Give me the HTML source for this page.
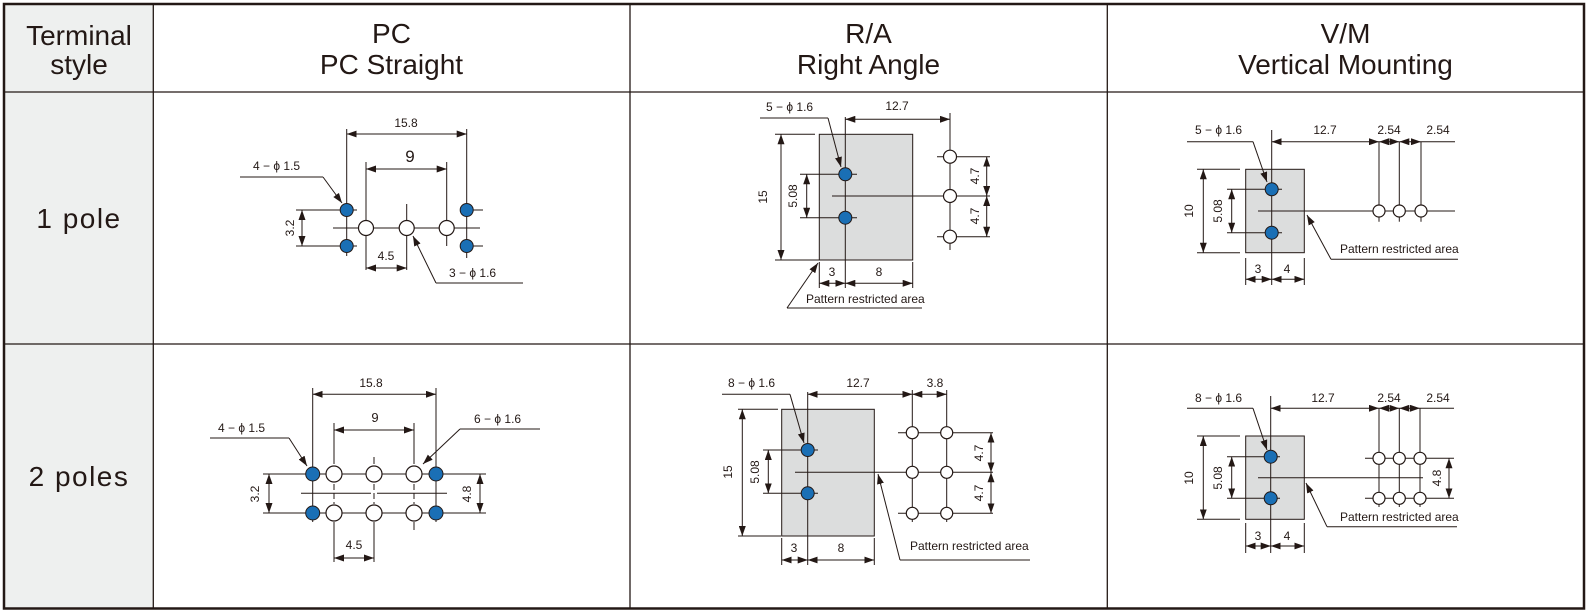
<!DOCTYPE html>
<html><head><meta charset="utf-8"><style>
html,body{margin:0;padding:0;background:#fff}
svg{display:block}
text{font-family:"Liberation Sans",sans-serif;fill:#231815}
.h{font-size:28px;text-anchor:middle}
.t{font-size:12px;text-anchor:middle}
.s{font-size:12px}
.l{stroke:#231815;stroke-width:1;fill:none}
.d{stroke:#231815;stroke-width:1;fill:none;marker-start:url(#a);marker-end:url(#a)}
.e{stroke:#231815;stroke-width:1;fill:none;marker-end:url(#a)}
.g{stroke:#231815;stroke-width:1;fill:none;stroke-dasharray:6,3}
.b{fill:#1a6fb5;stroke:#231815;stroke-width:1}
.o{fill:#fff;stroke:#231815;stroke-width:1.2}
.r{fill:#dcdddd;stroke:#231815;stroke-width:1}
</style></head><body>
<svg width="1588" height="613" viewBox="0 0 1588 613" xmlns="http://www.w3.org/2000/svg">
<defs><marker id="a" markerUnits="userSpaceOnUse" markerWidth="10" markerHeight="7" refX="10" refY="3.5" orient="auto-start-reverse"><path d="M0,0 L10,3.5 L0,7 z" fill="#231815"/></marker></defs>

<rect x="4" y="4" width="149.3" height="604.5" fill="#eef0ef"/>
<rect x="4" y="4" width="1580" height="604.5" fill="none" stroke="#231815" stroke-width="2.5"/>
<line x1="153.3" y1="4" x2="153.3" y2="608.5" stroke="#231815" stroke-width="1.3"/>
<line x1="630" y1="4" x2="630" y2="608.5" stroke="#231815" stroke-width="1.3"/>
<line x1="1107.3" y1="4" x2="1107.3" y2="608.5" stroke="#231815" stroke-width="1.3"/>
<line x1="4" y1="92" x2="1584" y2="92" stroke="#231815" stroke-width="1.3"/>
<line x1="4" y1="344" x2="1584" y2="344" stroke="#231815" stroke-width="1.3"/>

<text class="h" x="79" y="45">Terminal</text>
<text class="h" x="79" y="74">style</text>
<text class="h" x="391.5" y="43">PC</text>
<text class="h" x="391.5" y="74">PC Straight</text>
<text class="h" x="868.5" y="43">R/A</text>
<text class="h" x="868.5" y="74">Right Angle</text>
<text class="h" x="1345.5" y="43">V/M</text>
<text class="h" x="1345.5" y="74">Vertical Mounting</text>
<text class="h" x="79" y="228" style="letter-spacing:1.5px">1 pole</text>
<text class="h" x="79" y="486" style="letter-spacing:1.5px">2 poles</text>

<g>
<line class="l" x1="346.7" y1="129" x2="346.7" y2="256"/>
<line class="l" x1="466.7" y1="129" x2="466.7" y2="258"/>
<line class="d" x1="346.7" y1="134" x2="466.7" y2="134"/>
<line class="l" x1="366" y1="162" x2="366" y2="270"/>
<line class="l" x1="446.7" y1="162" x2="446.7" y2="246"/>
<line class="d" x1="366" y1="169" x2="446.7" y2="169"/>
<line class="l" x1="406.7" y1="204" x2="406.7" y2="270"/>
<line class="l" x1="333" y1="228" x2="480" y2="228"/>
<line class="l" x1="296" y1="210" x2="357" y2="210"/><line class="l" x1="460" y1="210" x2="483" y2="210"/>
<line class="l" x1="296" y1="246" x2="357" y2="246"/><line class="l" x1="460" y1="246" x2="483" y2="246"/>
<line class="d" x1="302" y1="210" x2="302" y2="246"/>
<line class="d" x1="366" y1="268" x2="406.7" y2="268"/>
<polyline class="l" points="240,177 323,177"/>
<line class="e" x1="323" y1="177" x2="342" y2="203"/>
<polyline class="l" points="523,283 436,283"/>
<line class="e" x1="436" y1="283" x2="413" y2="236"/>
<circle class="b" cx="346.7" cy="210" r="6.5"/><circle class="b" cx="346.7" cy="246" r="6.5"/>
<circle class="b" cx="466.7" cy="210" r="6.5"/><circle class="b" cx="466.7" cy="246" r="6.5"/>
<circle class="o" cx="366" cy="228" r="7.5"/><circle class="o" cx="406.7" cy="228" r="7.5"/><circle class="o" cx="446.7" cy="228" r="7.5"/>
<text class="t" x="406" y="127">15.8</text>
<text class="t" x="410" y="162" style="font-size:17px">9</text>
<text class="s" x="253" y="170">4 − ϕ 1.5</text>
<text class="s" x="449" y="277">3 − ϕ 1.6</text>
<text class="t" x="386" y="260">4.5</text>
<text class="t" transform="translate(294,228) rotate(-90)">3.2</text>
</g>

<g>
<rect class="r" x="819.3" y="134.3" width="93.4" height="125.7"/>
<line class="l" x1="845.3" y1="117" x2="845.3" y2="288"/>
<line class="l" x1="800" y1="174.3" x2="857" y2="174.3"/>
<line class="l" x1="800" y1="217.7" x2="857" y2="217.7"/>
<line class="l" x1="832" y1="196" x2="990" y2="196"/>
<line class="l" x1="937" y1="156.7" x2="990" y2="156.7"/>
<line class="l" x1="937" y1="236.7" x2="990" y2="236.7"/>
<line class="l" x1="950" y1="113" x2="950" y2="250"/>
<line class="d" x1="845.3" y1="119.3" x2="950" y2="119.3"/>
<line class="d" x1="986.7" y1="156.7" x2="986.7" y2="196"/>
<line class="d" x1="986.7" y1="196" x2="986.7" y2="236.7"/>
<line class="l" x1="775" y1="134.3" x2="815" y2="134.3"/>
<line class="l" x1="775" y1="260" x2="819" y2="260"/>
<line class="d" x1="781" y1="134.3" x2="781" y2="260"/>
<line class="d" x1="806.7" y1="174.3" x2="806.7" y2="217.7"/>
<line class="l" x1="819.3" y1="262" x2="819.3" y2="288"/>
<line class="l" x1="912.7" y1="262" x2="912.7" y2="288"/>
<line class="d" x1="819.3" y1="283.3" x2="845.3" y2="283.3"/>
<line class="d" x1="845.3" y1="283.3" x2="912.7" y2="283.3"/>
<line class="l" x1="787" y1="308" x2="922" y2="308"/>
<line class="e" x1="787" y1="308" x2="818" y2="263"/>
<line class="l" x1="760" y1="118" x2="828" y2="118"/>
<line class="e" x1="828" y1="118" x2="841" y2="167"/>
<circle class="b" cx="845.3" cy="174.3" r="6.5"/><circle class="b" cx="845.3" cy="217.7" r="6.5"/>
<circle class="o" cx="950" cy="156.7" r="6.5"/><circle class="o" cx="950" cy="196" r="6.5"/><circle class="o" cx="950" cy="236.7" r="6.5"/>
<text class="t" x="897" y="110">12.7</text>
<text class="s" x="766" y="111">5 − ϕ 1.6</text>
<text class="t" x="832" y="276">3</text>
<text class="t" x="879" y="276">8</text>
<text class="s" x="806" y="303">Pattern restricted area</text>
<text class="t" transform="translate(767,197) rotate(-90)">15</text>
<text class="t" transform="translate(797,196) rotate(-90)">5.08</text>
<text class="t" transform="translate(979,176) rotate(-90)">4.7</text>
<text class="t" transform="translate(979,216) rotate(-90)">4.7</text>
</g>

<g>
<rect class="r" x="1245.7" y="169.3" width="58.6" height="83.4"/>
<line class="l" x1="1271.7" y1="130" x2="1271.7" y2="285"/>
<line class="l" x1="1227" y1="189.3" x2="1282" y2="189.3"/>
<line class="l" x1="1227" y1="232.7" x2="1282" y2="232.7"/>
<line class="l" x1="1258" y1="211" x2="1455" y2="211"/>
<line class="l" x1="1379" y1="141.7" x2="1379" y2="221.7"/>
<line class="l" x1="1399.3" y1="141.7" x2="1399.3" y2="221.7"/>
<line class="l" x1="1421" y1="141.7" x2="1421" y2="221.7"/>
<line class="d" x1="1271.7" y1="141.7" x2="1379" y2="141.7"/>
<line class="d" x1="1379" y1="141.7" x2="1399.3" y2="141.7"/>
<line class="d" x1="1399.3" y1="141.7" x2="1421" y2="141.7"/>
<line class="l" x1="1421" y1="141.7" x2="1455" y2="141.7"/>
<line class="l" x1="1197" y1="169.3" x2="1240" y2="169.3"/>
<line class="l" x1="1197" y1="252.7" x2="1240" y2="252.7"/>
<line class="d" x1="1203.3" y1="169.3" x2="1203.3" y2="252.7"/>
<line class="d" x1="1231.7" y1="189.3" x2="1231.7" y2="232.7"/>
<line class="l" x1="1245.7" y1="258" x2="1245.7" y2="285"/>
<line class="l" x1="1304.3" y1="258" x2="1304.3" y2="285"/>
<line class="d" x1="1245.7" y1="279.3" x2="1271.7" y2="279.3"/>
<line class="d" x1="1271.7" y1="279.3" x2="1304.3" y2="279.3"/>
<line class="l" x1="1331" y1="259.3" x2="1458" y2="259.3"/>
<line class="e" x1="1331" y1="259.3" x2="1307" y2="215"/>
<line class="l" x1="1187" y1="141.7" x2="1253" y2="141.7"/>
<line class="e" x1="1253" y1="141.7" x2="1267" y2="182"/>
<circle class="b" cx="1271.7" cy="189.3" r="6.5"/><circle class="b" cx="1271.7" cy="232.7" r="6.5"/>
<circle class="o" cx="1379" cy="211" r="6"/><circle class="o" cx="1399.3" cy="211" r="6"/><circle class="o" cx="1421" cy="211" r="6"/>
<text class="t" x="1325" y="134">12.7</text>
<text class="t" x="1389" y="134">2.54</text>
<text class="t" x="1438" y="134">2.54</text>
<text class="s" x="1195" y="134">5 − ϕ 1.6</text>
<text class="t" x="1258" y="273">3</text>
<text class="t" x="1287" y="273">4</text>
<text class="s" x="1340" y="253">Pattern restricted area</text>
<text class="t" transform="translate(1193,211) rotate(-90)">10</text>
<text class="t" transform="translate(1222,211) rotate(-90)">5.08</text>
</g>

<g>
<line class="l" x1="312.7" y1="388" x2="312.7" y2="522"/>
<line class="l" x1="436" y1="388" x2="436" y2="522"/>
<line class="d" x1="312.7" y1="394.3" x2="436" y2="394.3"/>
<line class="l" x1="334" y1="423" x2="334" y2="464"/><line class="g" x1="334" y1="484" x2="334" y2="504"/><line class="l" x1="334" y1="522" x2="334" y2="562"/>
<line class="l" x1="414" y1="423" x2="414" y2="464"/><line class="g" x1="414" y1="484" x2="414" y2="504"/><line class="l" x1="414" y1="522" x2="414" y2="530"/>
<line class="l" x1="374" y1="457" x2="374" y2="464"/><line class="g" x1="374" y1="484" x2="374" y2="504"/><line class="l" x1="374" y1="522" x2="374" y2="562"/>
<line class="d" x1="334" y1="430" x2="414" y2="430"/>
<line class="l" x1="263" y1="474" x2="486" y2="474"/>
<line class="l" x1="263" y1="513" x2="486" y2="513"/>
<line class="l" x1="301" y1="493.3" x2="371" y2="493.3"/><line class="l" x1="377" y1="493.3" x2="447" y2="493.3"/>
<line class="d" x1="269" y1="474" x2="269" y2="513"/>
<line class="d" x1="480" y1="474" x2="480" y2="513"/>
<line class="d" x1="334" y1="558" x2="374" y2="558"/>
<line class="l" x1="210" y1="438" x2="289" y2="438"/>
<line class="e" x1="289" y1="438" x2="307" y2="466"/>
<line class="l" x1="460" y1="429" x2="540" y2="429"/>
<line class="e" x1="460" y1="429" x2="423" y2="464"/>
<circle class="b" cx="312.7" cy="474" r="7"/><circle class="b" cx="436" cy="474" r="7"/>
<circle class="b" cx="312.7" cy="513" r="7"/><circle class="b" cx="436" cy="513" r="7"/>
<circle class="o" cx="334" cy="474" r="8"/><circle class="o" cx="374" cy="474" r="8"/><circle class="o" cx="414" cy="474" r="8"/>
<circle class="o" cx="334" cy="513" r="8"/><circle class="o" cx="374" cy="513" r="8"/><circle class="o" cx="414" cy="513" r="8"/>
<text class="t" x="371" y="387">15.8</text>
<text class="t" x="375" y="422" style="font-size:13px">9</text>
<text class="s" x="218" y="432">4 − ϕ 1.5</text>
<text class="s" x="474" y="423">6 − ϕ 1.6</text>
<text class="t" x="354" y="549">4.5</text>
<text class="t" transform="translate(259,494) rotate(-90)">3.2</text>
<text class="t" transform="translate(471,494) rotate(-90)">4.8</text>
</g>

<g>
<rect class="r" x="781.7" y="409.3" width="92.6" height="126.7"/>
<line class="l" x1="807.7" y1="392" x2="807.7" y2="565"/>
<line class="l" x1="763" y1="450" x2="818" y2="450"/>
<line class="l" x1="763" y1="493.3" x2="818" y2="493.3"/>
<line class="l" x1="795" y1="472.3" x2="993" y2="472.3"/>
<line class="l" x1="898" y1="432.7" x2="993" y2="432.7"/>
<line class="l" x1="898" y1="513.3" x2="993" y2="513.3"/>
<line class="l" x1="912.3" y1="390" x2="912.3" y2="522"/>
<line class="l" x1="946.7" y1="390" x2="946.7" y2="522"/>
<line class="d" x1="807.7" y1="394.3" x2="912.3" y2="394.3"/>
<line class="d" x1="912.3" y1="394.3" x2="946.7" y2="394.3"/>
<line class="d" x1="991" y1="432.7" x2="991" y2="472.3"/>
<line class="d" x1="991" y1="472.3" x2="991" y2="513.3"/>
<line class="l" x1="738" y1="409.3" x2="778" y2="409.3"/>
<line class="l" x1="738" y1="536" x2="781" y2="536"/>
<line class="d" x1="742.3" y1="409.3" x2="742.3" y2="536"/>
<line class="d" x1="768.3" y1="450" x2="768.3" y2="493.3"/>
<line class="l" x1="781.7" y1="538" x2="781.7" y2="565"/>
<line class="l" x1="874.3" y1="538" x2="874.3" y2="565"/>
<line class="d" x1="781.7" y1="560" x2="807.7" y2="560"/>
<line class="d" x1="807.7" y1="560" x2="874.3" y2="560"/>
<line class="l" x1="900" y1="560" x2="1030" y2="560"/>
<line class="e" x1="900" y1="560" x2="878" y2="474"/>
<line class="l" x1="722" y1="394.3" x2="790" y2="394.3"/>
<line class="e" x1="790" y1="394.3" x2="804" y2="443"/>
<circle class="b" cx="807.7" cy="450" r="6.5"/><circle class="b" cx="807.7" cy="493.3" r="6.5"/>
<circle class="o" cx="912.3" cy="432.7" r="6"/><circle class="o" cx="912.3" cy="472.3" r="6"/><circle class="o" cx="912.3" cy="513.3" r="6"/>
<circle class="o" cx="946.7" cy="432.7" r="6"/><circle class="o" cx="946.7" cy="472.3" r="6"/><circle class="o" cx="946.7" cy="513.3" r="6"/>
<text class="t" x="858" y="387">12.7</text>
<text class="t" x="935" y="387">3.8</text>
<text class="s" x="728" y="387">8 − ϕ 1.6</text>
<text class="t" x="794" y="552">3</text>
<text class="t" x="841" y="552">8</text>
<text class="s" x="910" y="550">Pattern restricted area</text>
<text class="t" transform="translate(732,472) rotate(-90)">15</text>
<text class="t" transform="translate(759,472) rotate(-90)">5.08</text>
<text class="t" transform="translate(983,453) rotate(-90)">4.7</text>
<text class="t" transform="translate(983,493) rotate(-90)">4.7</text>
</g>

<g>
<rect class="r" x="1245.7" y="436" width="58.6" height="83.3"/>
<line class="l" x1="1270.7" y1="396" x2="1270.7" y2="553"/>
<line class="l" x1="1227" y1="456.7" x2="1280" y2="456.7"/>
<line class="l" x1="1227" y1="498.3" x2="1280" y2="498.3"/>
<line class="l" x1="1258" y1="477.7" x2="1423" y2="477.7"/>
<line class="l" x1="1365" y1="458.3" x2="1454" y2="458.3"/>
<line class="l" x1="1365" y1="498.3" x2="1454" y2="498.3"/>
<line class="l" x1="1379" y1="408" x2="1379" y2="507"/>
<line class="l" x1="1399.3" y1="408" x2="1399.3" y2="507"/>
<line class="l" x1="1420" y1="408" x2="1420" y2="507"/>
<line class="d" x1="1270.7" y1="408.3" x2="1379" y2="408.3"/>
<line class="d" x1="1379" y1="408.3" x2="1399.3" y2="408.3"/>
<line class="d" x1="1399.3" y1="408.3" x2="1420" y2="408.3"/>
<line class="l" x1="1420" y1="408.3" x2="1454" y2="408.3"/>
<line class="d" x1="1449" y1="458.3" x2="1449" y2="498.3"/>
<line class="l" x1="1197" y1="436" x2="1240" y2="436"/>
<line class="l" x1="1197" y1="519.3" x2="1240" y2="519.3"/>
<line class="d" x1="1203.3" y1="436" x2="1203.3" y2="519.3"/>
<line class="d" x1="1231.7" y1="456.7" x2="1231.7" y2="498.3"/>
<line class="l" x1="1245.7" y1="523" x2="1245.7" y2="553"/>
<line class="l" x1="1304.3" y1="523" x2="1304.3" y2="553"/>
<line class="d" x1="1245.7" y1="546" x2="1270.7" y2="546"/>
<line class="d" x1="1270.7" y1="546" x2="1304.3" y2="546"/>
<line class="l" x1="1327" y1="526.7" x2="1457" y2="526.7"/>
<line class="e" x1="1327" y1="526.7" x2="1306" y2="483"/>
<line class="l" x1="1187" y1="408.3" x2="1253" y2="408.3"/>
<line class="e" x1="1253" y1="408.3" x2="1267" y2="450"/>
<circle class="b" cx="1270.7" cy="456.7" r="6.5"/><circle class="b" cx="1270.7" cy="498.3" r="6.5"/>
<circle class="o" cx="1379" cy="458.3" r="6"/><circle class="o" cx="1399.3" cy="458.3" r="6"/><circle class="o" cx="1420" cy="458.3" r="6"/>
<circle class="o" cx="1379" cy="498.3" r="6"/><circle class="o" cx="1399.3" cy="498.3" r="6"/><circle class="o" cx="1420" cy="498.3" r="6"/>
<text class="t" x="1323" y="402">12.7</text>
<text class="t" x="1389" y="402">2.54</text>
<text class="t" x="1438" y="402">2.54</text>
<text class="s" x="1195" y="402">8 − ϕ 1.6</text>
<text class="t" x="1258" y="540">3</text>
<text class="t" x="1287" y="540">4</text>
<text class="s" x="1340" y="521">Pattern restricted area</text>
<text class="t" transform="translate(1193,478) rotate(-90)">10</text>
<text class="t" transform="translate(1222,478) rotate(-90)">5.08</text>
<text class="t" transform="translate(1441,478) rotate(-90)">4.8</text>
</g>
</svg>
</body></html>
